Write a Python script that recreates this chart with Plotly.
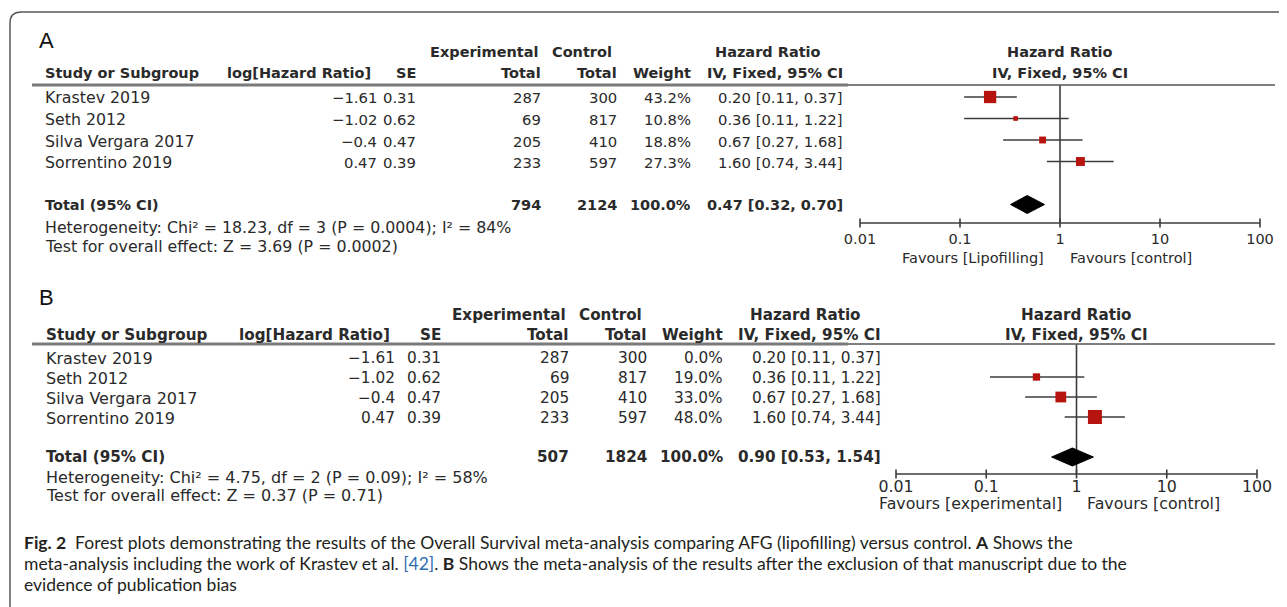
import plotly.graph_objects as go

# ---------------- data ----------------
studies = ["Krastev 2019", "Seth 2012", "Silva Vergara 2017", "Sorrentino 2019"]
log_hr = [-1.61, -1.02, -0.4, 0.47]
se = [0.31, 0.62, 0.47, 0.39]
exp_total = [287, 69, 205, 233]
ctrl_total = [300, 817, 410, 597]
hr = [0.20, 0.36, 0.67, 1.60]
ci_low = [0.11, 0.11, 0.27, 0.74]
ci_high = [0.37, 1.22, 1.68, 3.44]
weight_a = [43.2, 10.8, 18.8, 27.3]
weight_b = [0.0, 19.0, 33.0, 48.0]

total_exp = [794, 507]
total_ctrl = [2124, 1824]
total_weight = [100.0, 100.0]
total_hr = [0.47, 0.90]
total_low = [0.32, 0.53]
total_high = [0.70, 1.54]

het_text = ["Heterogeneity: Chi\u00b2 = 18.23, df = 3 (P = 0.0004); I\u00b2 = 84%",
            "Heterogeneity: Chi\u00b2 = 4.75, df = 2 (P = 0.09); I\u00b2 = 58%"]
test_text = ["Test for overall effect: Z = 3.69 (P = 0.0002)",
             "Test for overall effect: Z = 0.37 (P = 0.71)"]
favour_left = ["Favours [Lipofilling]", "Favours [experimental]"]
favour_right = ["Favours [control]", "Favours [control]"]
tick_vals = [0.01, 0.1, 1, 10, 100]
tick_labels = ["0.01", "0.1", "1", "10", "100"]
panel_labels = ["A", "B"]

caption_lines = [
    "<b>Fig. 2</b>\u00a0\u00a0Forest plots demonstrating the results of the Overall Survival meta-analysis comparing AFG (lipofilling) versus control. <b>A</b> Shows the",
    "meta-analysis including the work of Krastev et al. <span style='color:#2b6cb0'>[42]</span>. <b>B</b> Shows the meta-analysis of the results after the exclusion of that manuscript due to the",
    "evidence of publication bias",
]

# ---------------- layout helpers ----------------
# the page body has an 8px margin: shift everything so it lands where the reference has it
OFF = 8
W, H = 1287 - OFF, 607 - OFF
FONT = "DejaVu Sans"
TXT = "#2a2a2a"
LINE = "#3c3c3c"
RED = "#b8140f"

annotations = []
shapes = []


def PX(x):
    return (x - OFF) / W


def PY(y):
    return 1 - (y - OFF) / H


def ann(x, y, text, anchor="left", size=14.5, bold=False, color=TXT, family=FONT,
        xref="paper", yref="paper", xshift=0, yshift=0):
    if xref == "paper":
        x = PX(x)
    if yref == "paper":
        y = PY(y)
    if bold:
        text = f"<b>{text}</b>"
    annotations.append(dict(x=x, y=y, xref=xref, yref=yref, text=text, showarrow=False,
                            xanchor=anchor, yanchor="middle", xshift=xshift, yshift=yshift,
                            font=dict(family=family, size=size, color=color)))


def hline(x0, x1, y, color, width):
    shapes.append(dict(type="line", xref="paper", yref="paper", x0=PX(x0), x1=PX(x1),
                       y0=PY(y), y1=PY(y), line=dict(color=color, width=width)))


fmt_num = lambda v: str(v).replace("-", "\u2212")

panels = [
    dict(weights=weight_a, bold=14.5, reg=15.8, num=14.8, fav=14.5,
         xdom=(850, 1270), dpd=100.0, ydom=(78, 268),
         row0=97, step=21.5, axis_px=223, hdr_px=85, label_y=240, fav_y=258,
         lab_xy=(37, 40), h1=52, h2=73, het_y=227, test_y=247, maxsize=12.3,
         cols=dict(name=43, loghr=379, se=418, exp=543, ctrl=619, wt=693, ci=845),
         hdr=dict(loghr=373, se=418, expl=428, ctrll=550, hrc=768),
         fav_shift=(-14, 8), xa="x", ya="y"),
    dict(weights=weight_b, bold=15.2, reg=16.0, num=15.3, fav=15.8,
         xdom=(886, 1267), dpd=90.25, ydom=(338, 520),
         row0=357, step=20.0, axis_px=474, hdr_px=344, label_y=488, fav_y=503,
         lab_xy=(37, 297), h1=315, h2=335, het_y=477, test_y=495, maxsize=14,
         cols=dict(name=44, loghr=397, se=443, exp=571, ctrl=649, wt=725, ci=883),
         hdr=dict(loghr=392, se=443, expl=450, ctrll=577, hrc=805),
         fav_shift=(-13, 8), xa="x2", ya="y2"),
]

fig = go.Figure()
layout_axes = {}

for k, p in enumerate(panels):
    idx = lambda px_, p=p: (px_ - p["row0"]) / p["step"]
    xa, ya = p["xa"], p["ya"]
    yref = ya
    xref = xa
    cols = p["cols"]
    w = p["weights"]

    # axes (hidden; used only as scales)
    pad = (p["xdom"][1] - p["xdom"][0]) / p["dpd"] / 2 - 2
    axn = "xaxis" if k == 0 else "xaxis2"
    ayn = "yaxis" if k == 0 else "yaxis2"
    layout_axes[axn] = dict(type="log", domain=[PX(p["xdom"][0]), PX(p["xdom"][1])],
                            range=[-2 - pad, 2 + pad], visible=False, anchor=ya)
    layout_axes[ayn] = dict(domain=[PY(p["ydom"][1]), PY(p["ydom"][0])],
                            range=[idx(p["ydom"][1]), idx(p["ydom"][0])], visible=False,
                            anchor=xa)

    axis_idx = idx(p["axis_px"])
    top_idx = idx(p["hdr_px"])

    # reference line at 1
    fig.add_trace(go.Scatter(x=[1, 1], y=[top_idx, axis_idx], mode="lines",
                             line=dict(color=LINE, width=1.6), xaxis=xa, yaxis=ya,
                             hoverinfo="skip", showlegend=False))
    # x axis line
    fig.add_trace(go.Scatter(x=[tick_vals[0], tick_vals[-1]], y=[axis_idx, axis_idx],
                             mode="lines", line=dict(color=LINE, width=1.6), xaxis=xa,
                             yaxis=ya, hoverinfo="skip", showlegend=False))
    # ticks
    tx, ty = [], []
    d = 4.5 / p["step"]
    for t in tick_vals:
        tx += [t, t, None]
        ty += [axis_idx - d, axis_idx + d, None]
    fig.add_trace(go.Scatter(x=tx, y=ty, mode="lines", line=dict(color=LINE, width=1.6),
                             xaxis=xa, yaxis=ya, hoverinfo="skip", showlegend=False))
    # tick labels
    fig.add_trace(go.Scatter(x=tick_vals, y=[idx(p["label_y"])] * len(tick_vals),
                             mode="text", text=tick_labels, cliponaxis=False,
                             textfont=dict(family=FONT, size=p["fav"], color=TXT),
                             xaxis=xa, yaxis=ya, hoverinfo="skip", showlegend=False))

    # CI lines + weighted squares for studies carrying weight
    cx, cy = [], []
    mx, my, ms = [], [], []
    wmax = max(w)
    for i in range(len(studies)):
        if w[i] <= 0:
            continue
        cx += [ci_low[i], ci_high[i], None]
        cy += [i, i, None]
        mx.append(hr[i])
        my.append(i)
        ms.append(p["maxsize"] * (w[i] / wmax) ** 0.7)
    fig.add_trace(go.Scatter(x=cx, y=cy, mode="lines", line=dict(color=LINE, width=1.5),
                             xaxis=xa, yaxis=ya, hoverinfo="skip", showlegend=False))
    fig.add_trace(go.Scatter(x=mx, y=my, mode="markers", cliponaxis=False,
                             marker=dict(symbol="square", size=ms, color=RED, opacity=1,
                                         line=dict(width=0)),
                             xaxis=xa, yaxis=ya, hoverinfo="skip", showlegend=False))
    # pooled diamond
    tr = 5
    hh = 9 / p["step"]
    fig.add_trace(go.Scatter(x=[total_low[k], total_hr[k], total_high[k], total_hr[k], total_low[k]],
                             y=[tr, tr - hh, tr, tr + hh, tr], mode="lines", fill="toself",
                             fillcolor="black", line=dict(color="black", width=1),
                             xaxis=xa, yaxis=ya, hoverinfo="skip", showlegend=False))

    # forest header
    ann(0, p["h1"], "Hazard Ratio", anchor="center", size=p["bold"], bold=True, xref=xref)
    ann(0, p["h2"], "IV, Fixed, 95% CI", anchor="center", size=p["bold"], bold=True, xref=xref)
    # favours
    ann(0, p["fav_y"], favour_left[k], anchor="right", size=p["fav"], xref=xref,
        xshift=p["fav_shift"][0])
    ann(0, p["fav_y"], favour_right[k], anchor="left", size=p["fav"], xref=xref,
        xshift=p["fav_shift"][1])

    # panel label
    ann(p["lab_xy"][0], p["lab_xy"][1], panel_labels[k], size=22, family="Liberation Sans",
        color="#111")

    # table headers
    hd = p["hdr"]
    b = p["bold"]
    ann(hd["expl"], p["h1"], "Experimental", size=b, bold=True)
    ann(hd["ctrll"], p["h1"], "Control", size=b, bold=True)
    ann(hd["hrc"], p["h1"], "Hazard Ratio", anchor="center", size=b, bold=True)
    ann(cols["name"], p["h2"], "Study or Subgroup", size=b, bold=True)
    ann(hd["loghr"], p["h2"], "log[Hazard Ratio]", anchor="right", size=b, bold=True)
    ann(hd["se"], p["h2"], "SE", anchor="right", size=b, bold=True)
    ann(cols["exp"], p["h2"], "Total", anchor="right", size=b, bold=True)
    ann(cols["ctrl"], p["h2"], "Total", anchor="right", size=b, bold=True)
    ann(cols["wt"], p["h2"], "Weight", anchor="right", size=b, bold=True)
    ann(cols["ci"], p["h2"], "IV, Fixed, 95% CI", anchor="right", size=b, bold=True)

    # header rule
    hline(32, 848, p["hdr_px"], "#7a7a7a", 3)
    hline(848, 1275, p["hdr_px"], "#555555", 1.6)

    # study rows
    n = p["num"]
    for i, s in enumerate(studies):
        ann(cols["name"], i, s, size=p["reg"], yref=yref, yshift=-1)
        ann(cols["loghr"], i, fmt_num(log_hr[i]), anchor="right", size=n, yref=yref, yshift=-1)
        ann(cols["se"], i, f"{se[i]:.2f}", anchor="right", size=n, yref=yref, yshift=-1)
        ann(cols["exp"], i, str(exp_total[i]), anchor="right", size=n, yref=yref, yshift=-1)
        ann(cols["ctrl"], i, str(ctrl_total[i]), anchor="right", size=n, yref=yref, yshift=-1)
        ann(cols["wt"], i, f"{w[i]:.1f}%", anchor="right", size=n, yref=yref, yshift=-1)
        ann(cols["ci"], i, f"{hr[i]:.2f} [{ci_low[i]:.2f}, {ci_high[i]:.2f}]", anchor="right",
            size=n, yref=yref, yshift=-1)
    # total row
    ann(cols["name"], tr, "Total (95% CI)", size=b, bold=True, yref=yref)
    ann(cols["exp"], tr, str(total_exp[k]), anchor="right", size=b, bold=True, yref=yref)
    ann(cols["ctrl"], tr, str(total_ctrl[k]), anchor="right", size=b, bold=True, yref=yref)
    ann(cols["wt"], tr, f"{total_weight[k]:.1f}%", anchor="right", size=b, bold=True, yref=yref)
    ann(cols["ci"], tr, f"{total_hr[k]:.2f} [{total_low[k]:.2f}, {total_high[k]:.2f}]",
        anchor="right", size=b, bold=True, yref=yref)
    ann(cols["name"], p["het_y"], het_text[k], size=p["reg"])
    ann(cols["name"], p["test_y"], test_text[k], size=p["reg"])

# caption
for j, line in enumerate(caption_lines):
    ann(22, [542, 563, 584][j], line, size=17.5, family="Lato", color="#231f20")

# frame
shapes.append(dict(type="path", xref="paper", yref="paper",
                   path=f"M {PX(10)},{PY(612)} L {PX(10)},{PY(23)} "
                        f"Q {PX(10)},{PY(12)} {PX(21)},{PY(12)} L {PX(1295)},{PY(12)}",
                   line=dict(color="#5a5a5a", width=1.5)))

fig.update_layout(width=W, height=H, margin=dict(l=0, r=0, t=0, b=0),
                  paper_bgcolor="white", plot_bgcolor="white", showlegend=False,
                  annotations=annotations, shapes=shapes, **layout_axes)

fig.write_html("out.html")
